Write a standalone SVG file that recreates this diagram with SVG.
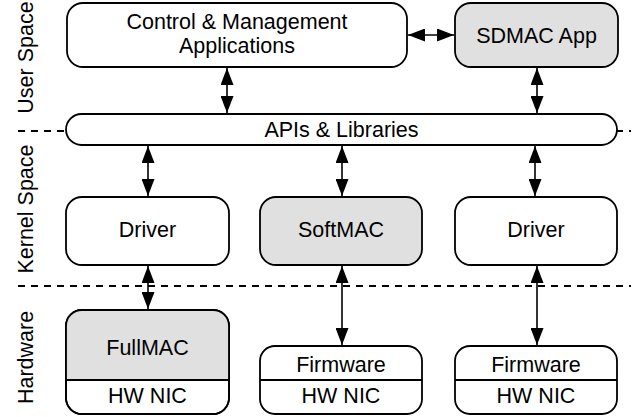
<svg xmlns="http://www.w3.org/2000/svg" width="641" height="417" viewBox="0 0 641 417">
  <style>
    .box { fill: #ffffff; stroke: #000000; stroke-width: 1.8; }
    .shaded { fill: #e0e0e0; stroke: #000000; stroke-width: 1.8; }
    .outline { fill: none; stroke: #000000; stroke-width: 1.8; }
    .divider { stroke: #000000; stroke-width: 1.8; }
    .label { font-family: "Liberation Sans", Arial, Helvetica, sans-serif; font-size: 21.5px; fill: #000000; text-anchor: middle; }
    .layer { stroke: #000000; stroke-width: 1.8; stroke-dasharray: 7 6; fill: none; }
    .link { stroke: #000000; stroke-width: 1.6; fill: none; marker-start: url(#head); marker-end: url(#head); }
  </style>
  <defs>
    <marker id="head" markerUnits="userSpaceOnUse" markerWidth="17" markerHeight="13" refX="17" refY="6.5" orient="auto-start-reverse">
      <path d="M0,0 L17,6.5 L0,13 Z" fill="#000000"/>
    </marker>
  </defs>

  <rect width="641" height="417" fill="#ffffff"/>

  <!-- layer boundaries -->
  <g id="layers">
    <line class="layer" x1="18" y1="131" x2="631" y2="131"/>
    <line class="layer" x1="18" y1="286" x2="631" y2="286"/>
  </g>

  <!-- layer names -->
  <g id="layer-names">
    <text class="label" transform="translate(33,57.5) rotate(-90)">User Space</text>
    <text class="label" transform="translate(33,209) rotate(-90)">Kernel Space</text>
    <text class="label" transform="translate(33,357.5) rotate(-90)">Hardware</text>
  </g>

  <!-- user space -->
  <g id="control-apps">
    <rect class="box" x="67" y="3" width="340" height="64" rx="16"/>
    <text class="label" x="237" y="29">Control &amp; Management</text>
    <text class="label" x="237" y="53">Applications</text>
  </g>
  <g id="sdmac-app">
    <rect class="shaded" x="455" y="3" width="163" height="64" rx="16"/>
    <text class="label" x="536.5" y="43">SDMAC App</text>
  </g>

  <g id="apis-libraries">
    <rect class="box" x="66" y="114" width="551" height="31" rx="15.5"/>
    <text class="label" x="341.5" y="137">APIs &amp; Libraries</text>
  </g>

  <!-- kernel space -->
  <g id="driver-left">
    <rect class="box" x="66" y="197" width="163" height="68" rx="16"/>
    <text class="label" x="147.5" y="237">Driver</text>
  </g>
  <g id="softmac">
    <rect class="shaded" x="260" y="197" width="162" height="68" rx="16"/>
    <text class="label" x="341" y="237">SoftMAC</text>
  </g>
  <g id="driver-right">
    <rect class="box" x="455" y="197" width="162" height="68" rx="16"/>
    <text class="label" x="536" y="237">Driver</text>
  </g>

  <!-- hardware -->
  <g id="fullmac-nic">
    <rect class="box" x="66" y="310" width="163" height="104" rx="16"/>
    <path d="M66,380 V326 A16,16 0 0 1 82,310 H213 A16,16 0 0 1 229,326 V380 Z" fill="#e0e0e0"/>
    <rect class="outline" x="66" y="310" width="163" height="104" rx="16"/>
    <line class="divider" x1="66" y1="380" x2="229" y2="380"/>
    <text class="label" x="147.5" y="355">FullMAC</text>
    <text class="label" x="147.5" y="403">HW NIC</text>
  </g>
  <g id="firmware-nic-middle">
    <rect class="box" x="260" y="346" width="162" height="68" rx="15"/>
    <line class="divider" x1="260" y1="380" x2="422" y2="380"/>
    <text class="label" x="341" y="372">Firmware</text>
    <text class="label" x="341" y="403">HW NIC</text>
  </g>
  <g id="firmware-nic-right">
    <rect class="box" x="455" y="346" width="162" height="68" rx="15"/>
    <line class="divider" x1="455" y1="380" x2="617" y2="380"/>
    <text class="label" x="536" y="372">Firmware</text>
    <text class="label" x="536" y="403">HW NIC</text>
  </g>

  <!-- connectors -->
  <g id="connectors">
    <line class="link" x1="408" y1="35" x2="454" y2="35"/>
    <line class="link" x1="227" y1="68" x2="227" y2="113"/>
    <line class="link" x1="537" y1="68" x2="537" y2="113"/>
    <line class="link" x1="148" y1="146" x2="148" y2="196"/>
    <line class="link" x1="342" y1="146" x2="342" y2="196"/>
    <line class="link" x1="535" y1="146" x2="535" y2="196"/>
    <line class="link" x1="148" y1="266" x2="148" y2="309"/>
    <line class="link" x1="342" y1="266" x2="342" y2="345"/>
    <line class="link" x1="537" y1="266" x2="537" y2="345"/>
  </g>
</svg>
